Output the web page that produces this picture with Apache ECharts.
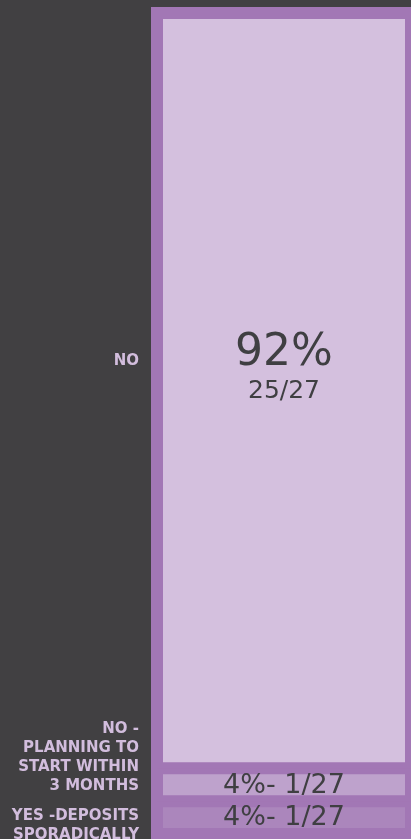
<!DOCTYPE html>
<html>
<head>
<meta charset="utf-8">
<script src="https://cdn.jsdelivr.net/npm/echarts@6/dist/echarts.min.js"></script>
<style>
  html, body { margin: 0; padding: 0; background: #414042; }
  #chart { width: 411px; height: 839px; }
</style>
</head>
<body>
<div id="chart"></div>
<script>
// bottom to top, same order as the stack
const categories = ['YES -DEPOSITS\nSPORADICALLY', 'NO -\nPLANNING TO\nSTART WITHIN\n3 MONTHS', 'NO']
const percents = [4, 4, 92]
const counts = [1, 1, 25]
const total = 27

const colors = ['#ab86bc', '#bea2cc', '#d4c0de']
const frame = '#a277b5'
// shift of the side labels / inner labels from the bar centre
const sideOffsets = [[0, 8], [0, -27], [0, -30]]
const innerOffsets = [[0, 0], [0, 1], [0, -22]]

const font = 'DejaVu Sans'

const chart = echarts.init(document.getElementById('chart'))

const series = []
categories.forEach((name, i) => {
  const big = percents[i] > 50
  series.push({
    name: name,
    type: 'bar',
    stack: 'main',
    data: [percents[i]],
    barWidth: '100%',
    itemStyle: {
      color: colors[i],
      borderColor: frame,
      borderWidth: 6
    },
    label: {
      show: true,
      position: 'inside',
      offset: innerOffsets[i],
      fontFamily: font,
      color: '#3f3f42',
      formatter: big
        ? '{a|' + percents[i] + '%}\n{b|' + counts[i] + '/' + total + '}'
        : percents[i] + '%- ' + counts[i] + '/' + total,
      fontSize: 27,
      rich: {
        a: { fontFamily: font, fontSize: 44, color: '#3f3f42', lineHeight: 46 },
        b: { fontFamily: font, fontSize: 25, color: '#3f3f42', lineHeight: 30 }
      }
    }
  })
})
// transparent copies carrying the category names on the left
categories.forEach((name, i) => {
  series.push({
    name: name + ' label',
    type: 'bar',
    stack: 'side',
    barGap: '-100%',
    data: [percents[i]],
    barWidth: '100%',
    silent: true,
    itemStyle: { color: 'transparent' },
    label: {
      show: true,
      position: 'left',
      distance: 18,
      offset: sideOffsets[i],
      formatter: name,
      fontFamily: font,
      fontSize: 15,
      fontWeight: 'bold',
      lineHeight: 19,
      align: 'right',
      color: '#d2bddd'
    }
  })
})

const options = {
  backgroundColor: '#414042',
  animation: false,
  grid: {
    left: 157,
    right: 0,
    top: 13,
    bottom: 5,
    show: true,
    backgroundColor: frame,
    borderColor: frame,
    borderWidth: 12
  },
  xAxis: {
    type: 'category',
    data: ['all'],
    show: false
  },
  yAxis: {
    type: 'value',
    min: 0,
    max: 100,
    show: false
  },
  series: series
}
chart.setOption(options)
</script>
</body>
</html>
